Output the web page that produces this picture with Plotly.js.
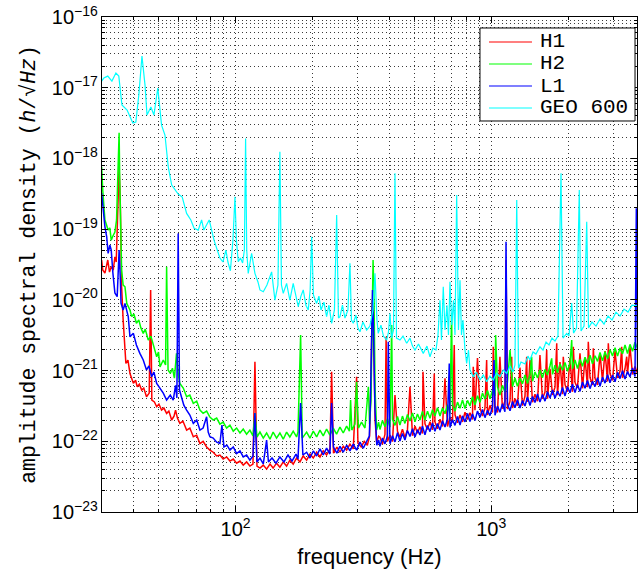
<!DOCTYPE html>
<html>
<head>
<meta charset="utf-8">
<script src="https://cdn.plot.ly/plotly-3.0.1.min.js"></script>
<style>html,body{margin:0;padding:0;background:#fff}#chart{width:638px;height:574px}</style>
</head>
<body>
<div id="chart"></div>
<script>
// ---- data (frequency in Hz, amplitude spectral density in 1/sqrt(Hz)) ----
const seriesNames = ['H1', 'H2', 'L1', 'GEO 600'];

const freqH1 = [
  29.9, 30.2, 30.8, 31.3, 31.6, 32.1, 32.6, 33.2, 33.7, 34.1,
  34.5, 35.0, 35.4, 35.8, 36.3, 37.2, 37.9, 38.6, 39.8, 40.6,
  41.2, 42.0, 42.9, 43.7, 44.8, 45.9, 46.5, 47.0, 48.1, 49.1,
  50.1, 51.3, 52.4, 53.7, 54.8, 56.2, 57.4, 58.2, 59.2, 60.5,
  62.2, 64.3, 66.2, 68.3, 70.4, 72.5, 74.6, 77.0, 79.3, 81.7,
  84.3, 86.8, 89.4, 92.2, 95.0, 97.9, 100.9, 104, 107.1, 110.4,
  113.7, 116.9, 119, 121.2, 124.5, 128.3, 132.2, 136.3, 140.2, 144.6,
  149, 153.6, 158.3, 163, 168, 173.2, 178.5, 183.9, 189.6, 195.4,
  201.3, 207.5, 213.8, 220.2, 227, 233.9, 237.5, 241.5, 249, 256,
  263.7, 271.9, 280.1, 288.6, 297.4, 301, 310, 318.5, 327.6, 334.3,
  338.6, 342.6, 346.9, 351.4, 356.2, 362.6,
  367.1, 375.5, 384.0, 388, 392.8, 401.8, 411.0, 420.3, 429.9, 439.5,
  449.5, 459.8, 470.3, 481.1, 492.1, 503.3, 514.8, 526.3, 538.3, 541,
  550.7, 563.3, 576.1, 589.2, 598.8, 602.6, 616.3, 630.5, 644.9, 659.6,
  674.6, 689.9, 705.6, 717, 721.8, 738.3, 755.1, 772.3, 789.8, 807.8,
  826.0, 844.8, 851, 864.2, 883.9, 904.2, 924.8, 945.6, 960, 967.2,
  989.2, 1011.7, 1019, 1035, 1058.6, 1082, 1106.7, 1132, 1143, 1157.8,
  1185, 1203, 1212, 1239, 1267, 1296, 1325.5, 1356, 1377, 1387,
  1419, 1451, 1484, 1518, 1552, 1587, 1624, 1649, 1661, 1699,
  1738, 1777, 1805, 1817, 1859, 1901, 1915, 1945, 1989, 2034,
  2080, 2096, 2128, 2176, 2226, 2277, 2329, 2382, 2399, 2436,
  2491, 2510, 2549, 2607, 2666, 2727, 2789, 2853, 2873, 2917,
  2984, 3052, 3122, 3193, 3242, 3266, 3340, 3391, 3416, 3493,
  3573, 3654, 3740
];
const asdH1 = [
  3.66e-20, 2.64e-20, 2.39e-20, 3.28e-20, 3.66e-20, 2.47e-20, 2.94e-20, 2.64e-20, 4.07e-20, 3.43e-20,
  1.08e-19, 7.6e-19, 2.07e-19, 1.53e-20, 5.2e-21, 1.26e-21, 1.41e-21, 9.1e-22, 6.6e-22, 7.3e-22,
  5.9e-22, 6.4e-22, 5.3e-22, 5.66e-22, 4.26e-22, 4.8e-22, 1.38e-20, 3.83e-22, 3.59e-22, 3.08e-22,
  3.36e-22, 2.76e-22, 2.95e-22, 2.48e-22, 2.67e-22, 2.0e-22, 2.27e-22, 2.76e-22, 2.13e-22, 1.79e-22,
  1.93e-22, 1.44e-22, 1.54e-22, 1.16e-22, 1.22e-22, 9.3e-23, 1.0e-22, 8.3e-23, 7.5e-23, 7.0e-23,
  6.2e-23, 6.4e-23, 5.6e-23, 6.0e-23, 5.25e-23, 5.6e-23, 4.9e-23, 5.25e-23, 4.6e-23, 5.1e-23,
  4.46e-23, 4.76e-23, 1.33e-21, 4.46e-23, 4.18e-23, 4.6e-23, 4.04e-23, 4.76e-23, 4.18e-23, 4.9e-23,
  4.3e-23, 5.1e-23, 4.46e-23, 5.4e-23, 4.76e-23, 5.8e-23, 5.1e-23, 6.2e-23, 5.4e-23, 6.6e-23,
  5.8e-23, 7.0e-23, 6.0e-23, 7.3e-23, 6.4e-23, 7.8e-23, 9.6e-22, 6.8e-23, 8.3e-23, 7.0e-23,
  8.5e-23, 7.5e-23, 9.1e-23, 7.8e-23, 8.2e-22, 9.4e-23, 8.3e-23, 1.0e-22, 8.8e-23, 1.18e-22,
  7.3e-22, 9.9e-21, 2.7e-21, 2.0e-22, 9.75e-23, 1.18e-22,
  1.14e-22, 9.1e-23, 1.25e-22, 3.0e-21, 9.9e-23, 1.23e-22, 9.9e-23, 4.5e-22, 1.38e-22, 1.14e-22,
  1.48e-22, 1.13e-22, 1.46e-22, 5.9e-22, 1.2e-22, 1.64e-22, 1.3e-22, 1.61e-22, 1.29e-22, 9.6e-22,
  1.76e-22, 1.47e-22, 1.89e-22, 1.45e-22, 9.1e-22, 1.88e-22, 1.5e-22, 2.05e-22, 1.62e-22, 7.8e-22,
  1.62e-22, 2.21e-22, 1.84e-22, 2.3e-21, 2.37e-22, 1.82e-22, 2.35e-22, 1.88e-22, 2.57e-22, 2.03e-22,
  2.53e-22, 2.03e-22, 1.13e-21, 2.76e-22, 1.5e-21, 2.97e-22, 2.28e-22, 2.94e-22, 1.41e-21, 2.35e-22,
  3.22e-22, 2.55e-22, 2.17e-21, 3.16e-22, 2.55e-22, 1.57e-21, 2.88e-22, 3.72e-22, 3.66e-20, 2.85e-22,
  3.69e-22, 1.57e-21, 2.95e-22, 4.03e-22, 3.19e-22, 1.1e-21, 3.19e-22, 4.34e-22, 1.57e-21, 3.61e-22,
  1.41e-21, 3.57e-22, 4.62e-22, 3.69e-22, 1.66e-21, 4.0e-22, 4.96e-22, 1.95e-21, 4.0e-22, 1.06e-21,
  4.52e-22, 5.83e-22, 2.43e-21, 4.47e-22, 1.32e-21, 4.63e-22, 1.57e-21, 6.33e-22, 5.01e-22, 1.5e-21,
  5.0e-22, 2.17e-21, 6.8e-22, 5.67e-22, 1.75e-21, 5.61e-22, 1.52e-21, 5.8e-22, 2.55e-21, 7.93e-22,
  6.27e-22, 2.06e-21, 7.79e-22, 6.27e-22, 1.75e-21, 7.1e-22, 1.89e-21, 7.02e-22, 2.43e-21, 9.08e-22,
  7.26e-22, 1.9e-21, 7.86e-22, 9.76e-22, 2.17e-21, 7.86e-22, 1.07e-21, 1.57e-21, 8.89e-22, 2.17e-21,
  8.8e-22, 1.14e-21, 9.1e-22
];

const freqH2 = [
  29.9, 30.2, 30.8, 31.3, 31.7, 32.2, 32.6, 33.1, 33.7, 34.2,
  34.6, 35.0, 35.2, 35.8, 36.3, 36.9, 37.5, 38.0, 38.6, 39.2,
  40.0, 40.9, 41.8, 42.6, 43.5, 44.3, 45.5, 46.6, 47.7, 49.1,
  49.9, 50.6, 52.1, 53.2, 53.7, 54.4, 55.5, 56.6, 57.6, 58.7,
  59.7, 60.5, 62.4, 64.3, 66.2, 68.3, 70.4, 72.5, 74.6, 77.0,
  79.3, 81.7, 84.3, 86.8, 89.4, 92.2, 95.0, 97.9, 100.9, 104,
  107.1, 110.4, 113.7, 116.9, 119, 121.2, 124.5, 128.3, 132.2, 136.3,
  140.2, 144.6, 149, 153.6, 158.3, 163, 168, 173.2, 175.4, 179.6,
  182.3, 189.6, 195.4, 201.3, 207.5, 213.8, 220.2, 227, 233.9, 241,
  248.3, 256, 263.7, 271.9, 278.9, 281.8, 284.8, 293, 297.4, 302.3,
  310.9, 320.7, 330.7, 334.3, 338.6, 342.1, 345.0, 348, 351.4, 356.2,
  362.6,
  367.1, 375.5, 384.0, 392.8, 401.8, 408, 411.0, 420.3, 429.9, 439.5,
  449.5, 459.8, 470.3, 481.1, 492.1, 503.3, 514.8, 526.3, 538.3, 550.7,
  563.3, 576.1, 589.2, 602.6, 616.3, 630.5, 644.9, 659.6, 674.6, 689.9,
  700, 705.6, 721.8, 738.3, 755.1, 772.3, 789.8, 807.8, 826.0, 844.8,
  864.2, 883.9, 904.2, 924.8, 945.6, 967.2, 989.2, 1011.7, 1035, 1041,
  1058.6, 1082, 1106.7, 1132, 1157.8, 1185, 1212, 1239, 1267, 1296,
  1325.5, 1356, 1387, 1419, 1440, 1451, 1484, 1518, 1552, 1587,
  1624, 1661, 1699, 1725, 1738, 1777, 1817, 1859, 1901, 1945,
  1989, 2034, 2066, 2080, 2128, 2176, 2226, 2277, 2329, 2382,
  2436, 2491, 2549, 2607, 2666, 2727, 2789, 2853, 2917, 2984,
  3052, 3122, 3193, 3266, 3340, 3416, 3493, 3573, 3654, 3740
];
const asdH2 = [
  7.6e-19, 3.57e-19, 1.35e-19, 1.14e-19, 9.7e-20, 1.04e-19, 7.0e-20, 8.0e-20, 9.1e-20, 1.35e-19,
  4.9e-19, 2.31e-18, 4.9e-19, 2.64e-20, 1.62e-20, 1.53e-20, 8.9e-21, 8.0e-21, 7.2e-21, 5.8e-21,
  6.3e-21, 4.66e-21, 5.2e-21, 3.99e-21, 3.36e-21, 3.86e-21, 2.7e-21, 3.07e-21, 2.3e-21, 1.57e-21,
  1.83e-21, 1.13e-21, 1.41e-21, 1.2e-21, 2.94e-20, 1.02e-21, 9.1e-22, 1.08e-21, 7.8e-22, 1.75e-21,
  8.6e-22, 6.6e-22, 5.66e-22, 4.26e-22, 4.5e-22, 3.44e-22, 3.7e-22, 2.76e-22, 2.48e-22, 2.67e-22,
  2.2e-22, 2.0e-22, 2.13e-22, 1.75e-22, 1.87e-22, 1.54e-22, 1.69e-22, 1.39e-22, 1.54e-22, 1.31e-22,
  1.49e-22, 1.26e-22, 1.44e-22, 1.19e-22, 2.5e-22, 1.15e-22, 1.35e-22, 1.11e-22, 1.31e-22, 1.07e-22,
  1.35e-22, 1.11e-22, 1.31e-22, 1.07e-22, 1.35e-22, 1.15e-22, 1.39e-22, 1.15e-22, 1.35e-22, 3.18e-21,
  1.11e-22, 1.35e-22, 1.11e-22, 1.39e-22, 1.15e-22, 1.44e-22, 1.19e-22, 1.49e-22, 1.22e-22, 1.54e-22,
  1.26e-22, 1.59e-22, 1.31e-22, 1.64e-22, 1.39e-22, 3.83e-22, 1.44e-22, 1.75e-22, 6.95e-22, 1.54e-22,
  1.87e-22, 1.54e-22, 5.9e-22, 1.75e-22, 3.83e-22, 9.9e-21, 3.66e-20, 9.9e-21, 5.3e-22, 1.44e-22,
  1.87e-22,
  1.47e-22, 1.97e-22, 1.61e-22, 2.09e-22, 1.58e-22, 4.4e-21, 2.04e-22, 1.68e-22, 2.24e-22, 1.7e-22,
  2.27e-22, 1.79e-22, 2.39e-22, 1.94e-22, 2.51e-22, 1.89e-22, 2.43e-22, 2.0e-22, 2.65e-22, 1.99e-22,
  2.67e-22, 2.11e-22, 2.8e-22, 2.28e-22, 2.98e-22, 2.28e-22, 2.95e-22, 2.45e-22, 3.28e-22, 2.48e-22,
  6.4e-21, 3.35e-22, 2.67e-22, 3.58e-22, 2.93e-22, 3.83e-22, 2.91e-22, 3.79e-22, 3.15e-22, 4.26e-22,
  3.26e-22, 4.42e-22, 3.55e-22, 4.81e-22, 3.97e-22, 5.22e-22, 4.0e-22, 5.24e-22, 4.37e-22, 3.18e-21,
  5.9e-22, 4.5e-22, 6.18e-22, 5.0e-22, 6.83e-22, 1.95e-21, 5.92e-22, 7.85e-22, 6.0e-22, 7.83e-22,
  6.48e-22, 8.67e-22, 6.57e-22, 8.87e-22, 1.57e-21, 7.08e-22, 9.53e-22, 7.86e-22, 1.03e-21, 7.93e-22,
  1.04e-21, 8.67e-22, 1.17e-21, 1.49e-21, 8.84e-22, 1.19e-21, 9.35e-22, 1.24e-21, 1.01e-21, 1.3e-21,
  9.8e-22, 1.26e-21, 2.7e-21, 1.05e-21, 1.41e-21, 1.07e-21, 1.44e-21, 1.15e-21, 1.54e-21, 1.26e-21,
  1.65e-21, 1.25e-21, 1.62e-21, 1.35e-21, 1.81e-21, 1.37e-21, 1.85e-21, 1.47e-21, 1.97e-21, 1.61e-21,
  2.11e-21, 1.6e-21, 2.08e-21, 1.72e-21, 2.3e-21, 1.74e-21, 2.35e-21, 1.87e-21, 2.52e-21, 2.06e-21
];

const freqL1 = [
  29.9, 30.4, 30.8, 31.3, 31.7, 32.2, 32.6, 33.1, 33.7, 34.4,
  34.8, 35.0, 35.4, 35.6, 36.3, 36.9, 38.0, 38.6, 39.8, 40.9,
  42.2, 43.5, 44.8, 45.8, 46.9, 47.9, 49.1, 50.6, 52.1, 53.7,
  55.5, 57.0, 58.2, 58.9, 59.6, 60.3, 61.4, 62.7, 64.3, 66.2,
  68.3, 70.4, 72.5, 74.6, 77.0, 78.1, 79.3, 81.7, 84.3, 86.8,
  88.4, 90.0, 92.5, 95.0, 97.9, 100.9, 104, 107.1, 110.4, 113.7,
  116.9, 119, 121.2, 124.5, 128.3, 132.2, 134.4, 138.8, 143.8, 149,
  154.6, 160.3, 166.2, 172.3, 175.4, 179.6, 183.3, 189.6, 195.4, 201.3,
  207.5, 213.8, 220.2, 227, 233.9, 237.5, 241.5, 249, 256, 263.7,
  271.9, 280.1, 288.6, 297.4, 306.6, 316, 325.8, 333.5, 337.0, 340.5,
  343.3, 346.4, 351, 356.8, 363,
  367.1, 375.5, 384.0, 392.8, 395.7, 401.8, 411.0, 420.3, 429.9, 439.5,
  449.5, 459.8, 470.3, 481.1, 492.1, 503.3, 514.8, 526.3, 538.3, 550.7,
  563.3, 576.1, 589.2, 602.6, 616.3, 630.5, 644.9, 659.6, 674.6, 685.5,
  689.9, 705.6, 721.8, 738.3, 755.1, 772.3, 789.8, 807.8, 826.0, 844.8,
  864.2, 883.9, 904.2, 924.8, 945.6, 967.2, 989.2, 1011.7, 1026, 1035,
  1058.6, 1082, 1106.7, 1132, 1143, 1157.8, 1185, 1212, 1239, 1267,
  1296, 1325.5, 1356, 1387, 1419, 1451, 1484, 1518, 1552, 1587,
  1624, 1661, 1699, 1738, 1777, 1817, 1859, 1901, 1945, 1989,
  2034, 2080, 2128, 2176, 2226, 2277, 2329, 2382, 2436, 2491,
  2549, 2607, 2666, 2727, 2789, 2853, 2917, 2984, 3052, 3122,
  3193, 3266, 3340, 3416, 3493, 3573, 3654, 3698, 3740
];
const asdL1 = [
  3.24e-19, 1.58e-19, 1.08e-19, 7.8e-20, 4.55e-20, 5.96e-20, 5.06e-20, 2.37e-20, 1.25e-20, 1.11e-20,
  2.64e-20, 5.06e-20, 1.9e-20, 9.0e-21, 7.2e-21, 8.9e-21, 5.8e-21, 3.0e-21, 3.36e-21, 2.3e-21,
  1.75e-21, 1.41e-21, 1.02e-21, 1.16e-21, 8.2e-22, 9.5e-22, 6.6e-22, 5.7e-22, 4.8e-22, 3.83e-22,
  4.5e-22, 3.83e-22, 6.2e-22, 4.1e-22, 8.7e-20, 5.3e-22, 4.3e-22, 3.25e-22, 2.76e-22, 2.35e-22,
  1.79e-22, 2.0e-22, 1.44e-22, 1.54e-22, 2.22e-22, 1.35e-22, 1.16e-22, 1.11e-22, 9.7e-23, 9.3e-23,
  1.69e-22, 8.3e-23, 8.8e-23, 7.5e-23, 8.3e-23, 6.7e-23, 7.3e-23, 6.0e-23, 6.4e-23, 5.4e-23,
  6.2e-23, 2.5e-22, 5.1e-23, 5.8e-23, 4.8e-23, 1.04e-22, 5.1e-23, 5.8e-23, 4.9e-23, 6.0e-23,
  5.1e-23, 6.4e-23, 5.25e-23, 6.6e-23, 5.6e-23, 3.47e-22, 6.4e-23, 7.0e-23, 5.8e-23, 7.3e-23,
  6.2e-23, 7.8e-23, 6.4e-23, 8.0e-23, 6.6e-23, 3.47e-22, 8.3e-23, 6.8e-23, 8.5e-23, 7.0e-23,
  8.8e-23, 7.3e-23, 9.1e-23, 7.5e-23, 9.75e-23, 8.0e-23, 1.0e-22, 1.18e-22, 3.83e-22, 5.2e-21,
  1.38e-20, 3.74e-21, 2.76e-22, 8.8e-23, 1.04e-22,
  8.5e-23, 1.11e-22, 9.2e-23, 1.2e-22, 2.55e-21, 9.2e-23, 1.2e-22, 9.8e-23, 1.32e-22, 1.01e-22,
  1.29e-22, 1.04e-22, 1.42e-22, 1.17e-22, 1.5e-22, 1.15e-22, 1.46e-22, 1.23e-22, 1.64e-22, 1.24e-22,
  1.67e-22, 1.37e-22, 1.81e-22, 1.39e-22, 1.78e-22, 1.44e-22, 1.95e-22, 1.59e-22, 2.06e-22, 1.26e-21,
  1.57e-22, 2.02e-22, 1.68e-22, 2.25e-22, 1.7e-22, 2.29e-22, 1.88e-22, 2.48e-22, 1.9e-22, 2.44e-22,
  1.97e-22, 2.67e-22, 2.18e-22, 2.82e-22, 2.16e-22, 2.74e-22, 2.31e-22, 3.08e-22, 1.41e-21, 2.33e-22,
  3.14e-22, 2.58e-22, 3.4e-22, 2.61e-22, 6.64e-20, 3.34e-22, 2.7e-22, 3.66e-22, 2.99e-22, 3.86e-22,
  2.95e-22, 3.76e-22, 3.16e-22, 4.23e-22, 3.2e-22, 4.31e-22, 3.54e-22, 4.67e-22, 3.58e-22, 4.58e-22,
  3.7e-22, 5.02e-22, 4.1e-22, 5.3e-22, 4.05e-22, 5.15e-22, 4.33e-22, 5.79e-22, 4.38e-22, 5.9e-22,
  4.85e-22, 6.39e-22, 4.91e-22, 6.29e-22, 5.07e-22, 6.88e-22, 5.62e-22, 7.26e-22, 5.55e-22, 7.06e-22,
  5.94e-22, 7.95e-22, 6.01e-22, 8.09e-22, 6.65e-22, 8.77e-22, 6.73e-22, 8.62e-22, 6.96e-22, 9.43e-22,
  7.7e-22, 9.95e-22, 7.61e-22, 9.69e-22, 8.15e-22, 1.09e-21, 8.23e-22, 1.97e-19, 1.09e-21
];

const freqGEO = [
  29.9, 30.5, 31.6, 32.8, 34.0, 34.9, 35.9, 37.6, 39.6, 40.7,
  41.8, 43.0, 44.2, 45.0, 46.6, 47.9, 49.6, 51.3, 52.9, 54.5,
  56.2, 57.9, 59.6, 61.8, 64.3, 66.8, 68.8, 71.4, 73.6, 75.1,
  76.5, 78.8, 82.3, 84.5, 86.8, 89.2, 91.6, 93.3, 95.4, 97.6,
  99.4, 100.7, 102.4, 104.4, 106.5, 108.2, 109.4, 110.5, 112, 115.5,
  119, 122.3, 124.5, 128.3, 132.6, 138.3, 142.5, 146.4, 149, 151.1,
  153.6, 158.3, 163, 168, 172.2, 175.8, 180.1, 183.9, 188.4, 192.4,
  195.7, 198.4, 201.6, 207.5, 211.8, 215.8, 221.6, 227, 231.8, 237.5,
  243.6, 248.5, 252.6, 256, 261.8, 267.8, 275.1, 280.1, 283.9, 288.6,
  295.7, 301.1, 306.6, 314.9, 325.6, 335.4, 344.6, 351, 357.3, 361.5,
  370.4, 378.8, 390, 396.3, 401.8, 407.3, 414.7, 420.3, 426.1, 439.5,
  451.8, 467.0, 481.1, 492.1, 503.3, 519.4, 542.3, 560.7, 576.1, 591.6,
  608.1, 619.2, 630.5, 639, 649.4, 659.6, 671.4, 680.6, 689.9, 701.2,
  712.1, 721.8, 732.8, 744.7, 755.1, 765.2, 775.6, 789.8, 801.8, 815.1,
  826, 850.9, 876, 904.2, 931.3, 960.3, 989.2, 1019, 1049, 1082,
  1115, 1150, 1185, 1217, 1239, 1259, 1279, 1308, 1356, 1393,
  1419, 1458, 1497, 1552, 1595, 1639, 1684, 1730, 1777, 1825,
  1876, 1910, 1975, 2016, 2066, 2100, 2158, 2212, 2247, 2308,
  2365, 2404, 2480, 2572, 2666, 2764, 2866, 2971, 3079, 3193,
  3310, 3431, 3557, 3738
];
const asdGEO = [
  1.24e-17, 1.37e-17, 1.46e-17, 1.24e-17, 1.61e-17, 1.46e-17, 5.7e-18, 4.84e-18, 3.17e-18, 3.27e-18,
  7.9e-18, 2.81e-17, 1.09e-17, 4.11e-18, 5.33e-18, 4.11e-18, 9.9e-18, 2.96e-18, 2.14e-18, 7.6e-19,
  4.2e-19, 3.57e-19, 3.13e-19, 2.84e-19, 1.67e-19, 1.35e-19, 1.03e-19, 9.7e-20, 1.35e-19, 9.7e-20,
  1.11e-19, 1.35e-19, 7.0e-20, 5.06e-20, 3.9e-20, 3.43e-20, 5.06e-20, 3.43e-20, 2.58e-20, 7.0e-20,
  2.87e-19, 7.0e-20, 3.46e-20, 3.9e-20, 3.32e-20, 5.06e-20, 1.92e-18, 5.06e-20, 2.37e-20, 4.55e-20,
  2.37e-20, 1.79e-20, 1.38e-20, 1.3e-20, 1.62e-20, 2.49e-20, 9.9e-21, 1.62e-20, 1.24e-18, 1.62e-20,
  1.24e-20, 1.71e-20, 9.9e-21, 1.71e-20, 1.17e-20, 8.0e-21, 1.13e-20, 1.38e-20, 8.4e-21, 7.2e-21,
  1.38e-20, 7.8e-20, 1.17e-20, 8.9e-21, 1.13e-20, 7.2e-21, 9.3e-21, 5.8e-21, 8.4e-21, 4.66e-21,
  7.2e-21, 1.58e-19, 5.53e-21, 5.8e-21, 8.4e-21, 5.53e-21, 7.2e-21, 3.28e-20, 5.18e-21, 4.66e-21,
  6.1e-21, 3.99e-21, 3.54e-21, 4.85e-21, 3.74e-21, 4.26e-21, 7.2e-21, 2.37e-20, 5.18e-21, 3.36e-21,
  4.4e-21, 3.08e-21, 2.7e-21, 3.5e-21, 6.45e-21, 2.88e-21, 3.74e-21, 6.15e-19, 2.88e-21, 2.7e-21,
  3.08e-21, 2.43e-21, 2.88e-21, 2.22e-21, 1.95e-21, 2.37e-21, 1.75e-21, 2.22e-21, 1.57e-21, 2.08e-21,
  1.95e-21, 3.18e-21, 9.9e-21, 2.7e-21, 1.53e-20, 3.74e-21, 8.4e-21, 3.18e-21, 1.8e-20, 4.4e-21,
  9.9e-21, 3.18e-21, 3.03e-19, 3.74e-21, 1.9e-20, 3.18e-21, 5.18e-21, 1.95e-21, 1.26e-21, 1.95e-21,
  1.02e-21, 8.2e-22, 9.5e-22, 7.35e-22, 8.65e-22, 6.95e-22, 8.36e-22, 7.35e-22, 9.2e-22, 8.2e-22,
  1.02e-21, 9.1e-22, 1.16e-21, 9.5e-22, 1.2e-21, 2.58e-19, 1.08e-21, 1.32e-21, 1.24e-21, 1.6e-21,
  1.41e-21, 1.83e-21, 1.71e-21, 2.17e-21, 1.95e-21, 2.53e-21, 2.3e-21, 2.88e-21, 2.61e-21, 3.08e-21,
  6.15e-19, 2.88e-21, 3.36e-21, 3.08e-21, 9.0e-21, 3.39e-21, 3.99e-21, 3.57e-19, 3.62e-21, 4.26e-21,
  1.27e-19, 3.99e-21, 4.85e-21, 4.26e-21, 5.35e-21, 4.55e-21, 5.9e-21, 5.18e-21, 6.7e-21, 5.9e-21,
  7.4e-21, 6.7e-21, 8.4e-21, 8.2e-21
];

// ---- traces ----
const seriesX = [freqH1, freqH2, freqL1, freqGEO];
const seriesY = [asdH1, asdH2, asdL1, asdGEO];
const lineColors = ['#ff0000', '#00ff00', '#0000ff', '#00ffff'];
const lineWidths = [1.5, 1.5, 1.5, 1.2];

const traces = seriesNames.map((name, i) => ({
  type: 'scatter',
  mode: 'lines',
  name: name,
  x: seriesX[i],
  y: seriesY[i],
  line: {color: lineColors[i], width: lineWidths[i]},
  showlegend: false,
  hoverinfo: 'skip'
}));

// ---- legend box (drawn in paper coordinates, MATLAB style) ----
const legendBox = {x0: 0.7065, x1: 0.9963, y0: 0.7899, y1: 0.9778};
const legendRowY = [0.9495, 0.9051, 0.8606, 0.8162];
const legendLineX = [0.7234, 0.8037];
const legendTextX = 0.8150;

const shapes = [{
  type: 'rect', xref: 'paper', yref: 'paper', layer: 'above',
  x0: legendBox.x0, x1: legendBox.x1, y0: legendBox.y0, y1: legendBox.y1,
  fillcolor: '#ffffff', line: {color: '#000000', width: 1}
}].concat(seriesNames.map((name, i) => ({
  type: 'line', xref: 'paper', yref: 'paper', layer: 'above',
  x0: legendLineX[0], x1: legendLineX[1], y0: legendRowY[i], y1: legendRowY[i],
  line: {color: lineColors[i], width: 1.2}
})));

const annotations = seriesNames.map((name, i) => ({
  xref: 'paper', yref: 'paper', x: legendTextX, y: legendRowY[i],
  xanchor: 'left', yanchor: 'middle', showarrow: false, text: name,
  font: {family: 'Liberation Mono, Courier New, monospace', size: 21, color: '#000'}
}));

const gridDash = '1px,3px';
const gridColor = '#3a3a3a';

function logAxis(extra) {
  return Object.assign({
    type: 'log',
    dtick: 1,
    exponentformat: 'power',
    tickfont: {family: 'Liberation Sans, Arial, sans-serif', size: 16, color: '#000'},
    ticks: 'inside',
    ticklen: 6,
    tickcolor: '#000',
    showline: true,
    linecolor: '#000',
    linewidth: 1,
    mirror: 'ticks',
    zeroline: false,
    showgrid: true,
    gridcolor: gridColor,
    gridwidth: 1,
    griddash: gridDash,
    minor: {dtick: 'D1', showgrid: true, gridcolor: gridColor, gridwidth: 1, griddash: gridDash,
            ticks: 'inside', ticklen: 3, tickcolor: '#000'}
  }, extra);
}

const layout = {
  width: 638,
  height: 574,
  margin: {l: 102, r: 1, t: 17, b: 62},
  paper_bgcolor: '#ffffff',
  plot_bgcolor: '#ffffff',
  font: {family: 'Liberation Sans, Arial, sans-serif', color: '#000'},
  showlegend: false,
  shapes: shapes,
  annotations: annotations,
  xaxis: logAxis({
    range: [1.4771, 3.5706],
    title: {text: 'frequency (Hz)', font: {family: 'Liberation Sans, Arial, sans-serif', size: 22, color: '#000'}, standoff: 9}
  }),
  yaxis: logAxis({
    range: [-23, -16],
    title: {text: 'amplitude spectral density (<i>h</i>/\u221A<i>Hz</i>)', font: {family: 'Liberation Mono, Courier New, monospace', size: 21.5, color: '#000'}, standoff: 10}
  })
};

Plotly.newPlot('chart', traces, layout, {staticPlot: true, displayModeBar: false});
</script>
</body>
</html>
